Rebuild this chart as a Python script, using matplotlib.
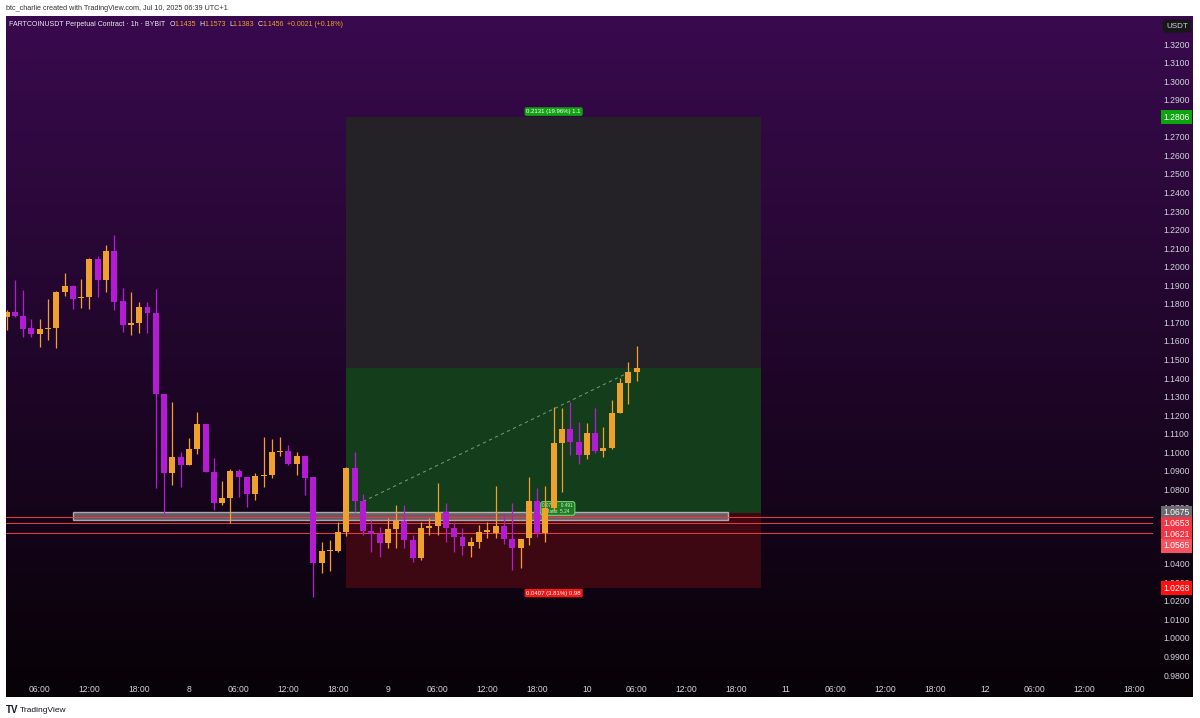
import matplotlib
matplotlib.use("Agg")
import matplotlib.pyplot as plt
from matplotlib.patches import Rectangle
from matplotlib.colors import to_rgb
import numpy as np

W, H = 1200, 718

# hourly candles, first one is Jul 7 02:00 (hours counted from Jul 8 00:00)
first_hour = -22
opens = [1.1727, 1.1758, 1.1734, 1.1669, 1.1637, 1.1663, 1.1672, 1.1865, 1.1898, 1.1830,
         1.1839, 1.2040, 1.1928, 1.2086, 1.1817, 1.1686, 1.1695, 1.1785, 1.1752, 1.1314,
         1.0890, 1.0977, 1.0932, 1.1018, 1.1152, 1.0894, 1.0729, 1.0752, 1.0898, 1.0869,
         1.0775, 1.0872, 1.0878, 1.1002, 1.1009, 1.0935, 1.0982, 1.0865, 1.0405, 1.0467,
         1.0470, 1.0572, 1.0917, 1.0738, 1.0578, 1.0558, 1.0510, 1.0587, 1.0630, 1.0528,
         1.0429, 1.0591, 1.0603, 1.0677, 1.0591, 1.0546, 1.0497, 1.0519, 1.0573, 1.0567,
         1.0605, 1.0533, 1.0487, 1.0537, 1.0739, 1.0567, 1.0698, 1.1048, 1.1124, 1.1057,
         1.0986, 1.1106, 1.1009, 1.1022, 1.1214, 1.1375, 1.1435]
highs = [1.1767, 1.1928, 1.1874, 1.1716, 1.1716, 1.1824, 1.1870, 1.1968, 1.1900, 1.1934,
         1.2045, 1.2058, 1.2117, 1.2171, 1.1883, 1.1865, 1.1812, 1.1812, 1.1878, 1.1314,
         1.1273, 1.1003, 1.1075, 1.1219, 1.1152, 1.0967, 1.0847, 1.0908, 1.0908, 1.0869,
         1.0887, 1.1085, 1.1073, 1.1083, 1.1040, 1.1003, 1.0982, 1.0865, 1.0518, 1.0527,
         1.0626, 1.0920, 1.0999, 1.0776, 1.0635, 1.0600, 1.0644, 1.0716, 1.0716, 1.0555,
         1.0626, 1.0644, 1.0833, 1.0725, 1.0626, 1.0591, 1.0546, 1.0609, 1.0626, 1.0820,
         1.0671, 1.0725, 1.0535, 1.0865, 1.0806, 1.0820, 1.1246, 1.1237, 1.1273, 1.1165,
         1.1160, 1.1237, 1.1135, 1.1282, 1.1399, 1.1489, 1.1573]
lows = [1.1659, 1.1727, 1.1623, 1.1623, 1.1566, 1.1605, 1.1560, 1.1842, 1.1770, 1.1779,
        1.1770, 1.1839, 1.1865, 1.1767, 1.1650, 1.1632, 1.1641, 1.1641, 1.0806, 1.0662,
        1.0824, 1.0815, 1.0932, 1.0991, 1.0894, 1.0689, 1.0716, 1.0621, 1.0761, 1.0707,
        1.0743, 1.0815, 1.0860, 1.0982, 1.0932, 1.0878, 1.0770, 1.0222, 1.0348, 1.0362,
        1.0465, 1.0550, 1.0680, 1.0555, 1.0465, 1.0434, 1.0483, 1.0483, 1.0483, 1.0411,
        1.0420, 1.0555, 1.0555, 1.0519, 1.0465, 1.0447, 1.0438, 1.0483, 1.0540, 1.0540,
        1.0506, 1.0366, 1.0375, 1.0500, 1.0546, 1.0519, 1.0680, 1.0788, 1.0986, 1.0937,
        1.0962, 1.0998, 1.0977, 1.1016, 1.1214, 1.1260, 1.1383]
closes = [1.1758, 1.1734, 1.1667, 1.1637, 1.1663, 1.1672, 1.1865, 1.1898, 1.1828, 1.1839,
          1.2040, 1.1928, 1.2086, 1.1812, 1.1686, 1.1697, 1.1785, 1.1749, 1.1314, 1.0890,
          1.0977, 1.0932, 1.1018, 1.1152, 1.0894, 1.0729, 1.0756, 1.0898, 1.0867, 1.0775,
          1.0874, 1.0878, 1.1003, 1.1009, 1.0935, 1.0982, 1.0863, 1.0405, 1.0467, 1.0474,
          1.0572, 1.0917, 1.0738, 1.0578, 1.0558, 1.0510, 1.0587, 1.0630, 1.0528, 1.0429,
          1.0591, 1.0603, 1.0677, 1.0591, 1.0546, 1.0497, 1.0519, 1.0573, 1.0578, 1.0605,
          1.0533, 1.0487, 1.0533, 1.0739, 1.0567, 1.0698, 1.1048, 1.1124, 1.1057, 1.0986,
          1.1106, 1.1009, 1.1022, 1.1214, 1.1375, 1.1435, 1.1456]

# time axis
time_ticks = [-18, -12, -6, 0, 6, 12, 18, 24, 30, 36, 42, 48, 54, 60, 66, 72, 78, 84, 90, 96, 102, 108, 114]
time_labels = ["06:00", "12:00", "18:00", "8", "06:00", "12:00", "18:00", "9", "06:00", "12:00", "18:00",
               "10", "06:00", "12:00", "18:00", "11", "06:00", "12:00", "18:00", "12", "06:00", "12:00", "18:00"]
# price grid labels; the ones hidden behind badges in the original are left out
hidden_ticks = [1.28, 1.06, 1.05]
price_ticks = [round(0.98 + 0.01 * i, 2) for i in range(35)]
price_ticks = [p for p in price_ticks if p not in hidden_ticks]

# long position tool
pos_start, pos_end = 19, 69
entry_price = 1.0675
target_price = 1.2806
stop_price = 1.0268
last_price = 1.1456
target_text = "0.2131 (19.96%) 1.1"
stop_text = "0.0407 (3.81%) 0.98"
pnl_text = "0.0781 \u00b7 0.491\nRatio: 5.24"
trend_hours = [21, 53.5]
trend_prices = [1.0735, 1.1440]

# support zone and horizontal levels
zone_start, zone_end = -14, 65
zone_low, zone_high = 1.0635, 1.0680
levels = [1.0653, 1.0621, 1.0565]

# price axis badges (price, background)
badges = [(1.2806, "#0fa30f"), (1.0675, "#6a6a70"), (1.0653, "#f23645"),
          (1.0621, "#f23645"), (1.0565, "#f7525f"), (1.0268, "#ff1010")]

UP = "#f0a12b"
DOWN = "#b41cd4"
TXT = "#d1d4dc"
FONT = "Liberation Sans"


def fig_rect(x0, y0, x1, y1):
    """pixel box (top-left origin) -> figure fraction rect"""
    return [x0 / W, 1 - y1 / H, (x1 - x0) / W, (y1 - y0) / H]


def draw_pieces(fig, x, y, pieces, size):
    renderer = fig.canvas.get_renderer()
    for text, color, gap in pieces:
        t = fig.text(x / W, 1 - y / H, text, color=color, fontsize=size, va="center", ha="left")
        x += t.get_window_extent(renderer).width + gap


def main():
    plt.rcParams["font.family"] = FONT
    fig = plt.figure(figsize=(W / 100, H / 100), dpi=100)
    fig.patch.set_facecolor("white")

    # gradient panel background
    bg = fig.add_axes(fig_rect(6, 16, 1193, 697))
    top, bottom = np.array(to_rgb("#390a4e")), np.array(to_rgb("#070206"))
    t = np.linspace(0, 1, 256)[:, None]
    grad = top[None, None, :] * (1 - t[..., None]) + bottom[None, None, :] * t[..., None]
    bg.imshow(grad, aspect="auto", extent=[0, 1, 0, 1])
    bg.set_axis_off()

    ax = fig.add_axes(fig_rect(6, 16, 1153, 682))
    ax.patch.set_alpha(0)
    ax.set_xlim(-22.07, 116.3)
    ax.set_ylim(0.97624, 1.33509)
    for s in ax.spines.values():
        s.set_visible(False)

    # position tool boxes
    ax.add_patch(Rectangle((pos_start, last_price), pos_end - pos_start, target_price - last_price,
                           facecolor="#242227", edgecolor="none", zorder=1))
    ax.add_patch(Rectangle((pos_start, entry_price), pos_end - pos_start, last_price - entry_price,
                           facecolor="#143d1b", edgecolor="none", zorder=1))
    ax.add_patch(Rectangle((pos_start, stop_price), pos_end - pos_start, entry_price - stop_price,
                           facecolor="#3e0812", edgecolor="none", zorder=1))
    mid = (pos_start + pos_end) / 2
    ax.annotate(target_text, (mid, target_price), xytext=(0, 4), textcoords="offset points",
                ha="center", va="center", fontsize=4.3, color="white", zorder=6,
                bbox=dict(boxstyle="round,pad=0.3,rounding_size=0.3", fc="#12a312", ec="none"))
    ax.annotate(stop_text, (mid, stop_price), xytext=(0, -3.5), textcoords="offset points",
                ha="center", va="center", fontsize=4.3, color="white", zorder=6,
                bbox=dict(boxstyle="round,pad=0.3,rounding_size=0.3", fc="#f01818", ec="none"))
    ax.annotate(pnl_text, (44.5, entry_price), xytext=(0, 3), textcoords="offset points",
                ha="center", va="center", fontsize=3.4, color="#d8f0d8", zorder=3, linespacing=1.1,
                bbox=dict(boxstyle="round,pad=0.35,rounding_size=0.5", fc="#1f7a26", ec="#6fd46f", lw=0.8))
    ax.plot(trend_hours, trend_prices, color="#6f8f70", lw=0.8, ls=(0, (3, 3)), zorder=3)

    # zone and levels
    ax.add_patch(Rectangle((zone_start, zone_low), zone_end - zone_start, zone_high - zone_low,
                           facecolor="#8a8a8e", alpha=0.65, edgecolor="#e8e8e8", lw=1, zorder=2))
    for lvl in levels:
        ax.axhline(lvl, color="#f23645", lw=0.7, zorder=2)

    # candles
    hours = np.arange(first_hour, first_hour + len(opens))
    o, hi, lo, c = map(np.array, (opens, highs, lows, closes))
    colors = np.where(c >= o, UP, DOWN)
    ax.vlines(hours, lo, hi, colors=colors, lw=0.9, zorder=4)
    body = np.maximum(np.abs(c - o), 0.0006)
    ax.bar(hours, body, bottom=np.minimum(o, c), width=0.72, color=colors, zorder=5)

    # axes labels
    ax.set_xticks(time_ticks)
    ax.set_xticklabels(time_labels)
    ax.set_yticks(price_ticks)
    ax.set_yticklabels([f"{p:.4f}" for p in price_ticks])
    ax.yaxis.tick_right()
    ax.tick_params(axis="x", length=0, pad=1.8, labelsize=6.2, labelcolor=TXT)
    ax.tick_params(axis="y", length=0, pad=7.5, labelsize=6.2, labelcolor=TXT)

    # price badges, stacked so they do not overlap
    px_per_price = (682 - 16) / (1.33509 - 0.97624)
    gap = 11 / px_per_price
    prev = None
    for price, color in sorted(badges, key=lambda b: -b[0]):
        y = price if prev is None else min(price, prev - gap)
        prev = y
        fy = 1 - (16 + (1.33509 - y) * px_per_price) / H
        fig.text(1190 / W, fy, f"{price:.4f}", ha="right", va="center", fontsize=6.2,
                 color="white", zorder=10,
                 bbox=dict(boxstyle="square,pad=0.28", fc=color, ec="none"))
    fig.text(1188 / W, 1 - 26 / H, "USDT", ha="right", va="center", fontsize=5.8, color=TXT,
             bbox=dict(boxstyle="round,pad=0.4,rounding_size=0.25", fc="#17171a", ec="none"))

    # header texts
    fig.text(6 / W, 1 - 8 / H, "btc_charlie created with TradingView.com, Jul 10, 2025 06:39 UTC+1",
             fontsize=5.2, color="#333333", va="center", ha="left")
    draw_pieces(fig, 9, 24, [
        ("FARTCOINUSDT Perpetual Contract \u00b7 1h \u00b7 BYBIT", "#ececf0", 4),
        ("O", "#ececf0", 0), ("1.1435", UP, 3),
        ("H", "#ececf0", 0), ("1.1573", UP, 3),
        ("L", "#ececf0", 0), ("1.1383", UP, 3),
        ("C", "#ececf0", 0), ("1.1456", UP, 3),
        ("+0.0021 (+0.18%)", UP, 0)], 5.0)

    fig.text(6 / W, 1 - 710 / H, "TV", fontsize=7, fontweight="bold", color="#131722", va="center")
    fig.text(20 / W, 1 - 710 / H, "TradingView", fontsize=6.0, color="#131722", va="center")

    fig.savefig("out.png", dpi=100, facecolor="white")


if __name__ == "__main__":
    main()
